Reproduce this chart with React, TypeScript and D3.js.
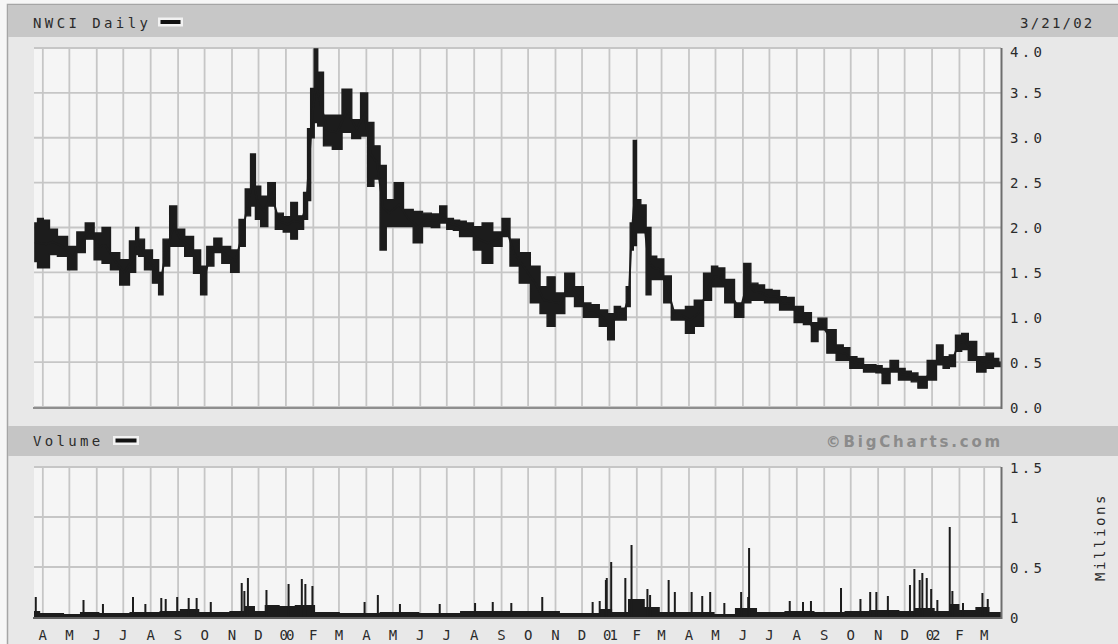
import React from "react";
import * as d3 from "d3";

// ---- price data (high / low bands) ----
const priceDates = [
  "1999-03-23","1999-03-29","1999-04-05","1999-04-12","1999-04-23","1999-05-05","1999-05-14","1999-05-24",
  "1999-06-03","1999-06-11","1999-06-22","1999-07-02","1999-07-14","1999-07-16","1999-07-21","1999-07-29",
  "1999-08-08","1999-08-12","1999-08-18","1999-08-27","1999-09-03","1999-09-14","1999-09-23","1999-09-30",
  "1999-10-07","1999-10-16","1999-10-25","1999-11-05","1999-11-13","1999-11-19","1999-11-25","1999-11-30",
  "1999-12-07","1999-12-16","1999-12-24","2000-01-03","2000-01-10","2000-01-18","2000-01-24","2000-01-27",
  "2000-01-31","2000-02-04","2000-02-08","2000-02-17","2000-02-28","2000-03-10","2000-03-21","2000-03-30",
  "2000-04-06","2000-04-13","2000-04-20","2000-04-27","2000-05-08","2000-05-18","2000-05-30","2000-06-08",
  "2000-06-19","2000-06-27","2000-07-05","2000-07-12","2000-07-19","2000-07-27","2000-08-04","2000-08-16",
  "2000-08-28","2000-09-06","2000-09-15","2000-09-27","2000-10-10","2000-10-19","2000-10-26","2000-11-06",
  "2000-11-17","2000-11-28","2000-12-07","2000-12-15","2000-12-26","2001-01-03","2001-01-10","2001-01-17",
  "2001-01-23","2001-01-26","2001-01-30","2001-02-02","2001-02-09","2001-02-14","2001-02-20","2001-02-27",
  "2001-03-08","2001-03-16","2001-03-23","2001-04-02","2001-04-12","2001-04-23","2001-04-30","2001-05-07",
  "2001-05-16","2001-05-29","2001-06-06","2001-06-14","2001-06-22","2001-06-29","2001-07-09","2001-07-16",
  "2001-07-24","2001-08-03","2001-08-14","2001-08-21","2001-08-29","2001-09-10","2001-09-19","2001-09-26",
  "2001-10-04","2001-10-12","2001-10-19","2001-10-26","2001-11-02","2001-11-09","2001-11-20","2001-11-28",
  "2001-12-05","2001-12-12","2001-12-20","2002-01-02","2002-01-10","2002-01-17","2002-01-24","2002-01-31",
  "2002-02-07","2002-02-15","2002-02-26","2002-03-08","2002-03-15","2002-03-20"
];
const priceHigh = [
  2.05,2.10,2.08,1.98,1.90,1.79,1.95,2.05,
  1.94,2.00,1.72,1.64,1.85,2.00,1.87,1.75,
  1.64,1.50,1.87,2.24,1.98,1.90,1.75,1.57,
  1.79,1.88,1.79,1.75,2.09,2.43,2.82,2.46,
  2.35,2.50,2.16,2.12,2.28,2.13,2.39,3.10,
  3.55,3.99,3.73,3.25,3.25,3.54,3.20,3.50,
  3.17,2.91,2.69,2.31,2.50,2.20,2.18,2.16,
  2.15,2.24,2.10,2.08,2.07,2.05,2.01,2.05,
  1.95,2.10,1.87,1.72,1.57,1.34,1.45,1.27,
  1.49,1.34,1.16,1.14,1.08,1.04,1.12,1.10,
  1.34,2.05,2.97,2.31,2.25,2.00,1.68,1.65,
  1.46,1.08,1.08,1.12,1.19,1.49,1.57,1.55,
  1.42,1.16,1.60,1.38,1.36,1.31,1.30,1.23,
  1.22,1.12,1.05,0.94,0.99,0.86,0.69,0.66,
  0.56,0.54,0.47,0.47,0.46,0.43,0.52,0.43,
  0.40,0.38,0.34,0.52,0.69,0.56,0.58,0.80,
  0.82,0.73,0.56,0.60,0.54,0.50
];
const priceLow = [
  1.62,1.55,1.55,1.70,1.68,1.53,1.72,1.87,
  1.64,1.60,1.53,1.36,1.50,1.70,1.68,1.53,
  1.38,1.25,1.57,1.79,1.79,1.68,1.49,1.25,
  1.57,1.72,1.60,1.50,1.79,2.13,2.24,2.09,
  2.01,2.24,1.98,1.95,1.87,1.98,2.09,2.30,
  3.00,3.17,3.13,2.91,2.87,3.06,2.99,3.02,
  2.46,2.54,1.75,2.01,2.01,2.01,1.83,2.01,
  2.00,2.05,1.98,1.97,1.90,1.90,1.75,1.60,
  1.79,1.90,1.57,1.38,1.16,1.04,0.90,1.04,
  1.23,1.12,1.00,1.00,0.90,0.75,0.97,0.97,
  1.12,1.75,1.80,1.94,1.94,1.25,1.42,1.42,
  1.16,0.97,0.97,0.82,0.90,1.19,1.34,1.34,
  1.16,1.00,1.16,1.19,1.19,1.16,1.16,1.08,
  1.08,0.94,0.92,0.73,0.86,0.60,0.52,0.52,
  0.43,0.43,0.39,0.39,0.38,0.26,0.39,0.30,
  0.30,0.28,0.21,0.30,0.47,0.43,0.45,0.62,
  0.64,0.52,0.39,0.43,0.45,0.45
];

// ---- volume (millions): background level + individual spikes ----
const volBaseDates = [
  "1999-03-22","1999-03-29","1999-04-25","1999-05-13","1999-06-04","1999-07-08","1999-08-11","1999-09-03",
  "1999-09-25","1999-10-29","1999-11-15","1999-11-27","1999-12-08","1999-12-25","2000-01-11","2000-02-03",
  "2000-03-02","2000-04-16","2000-05-31","2000-07-16","2000-08-30","2000-11-06","2000-12-21","2001-01-04",
  "2001-01-22","2001-02-10","2001-02-27","2001-04-02","2001-04-30","2001-05-23","2001-06-17","2001-07-18",
  "2001-08-21","2001-09-24","2001-10-22","2001-11-25","2001-12-12","2002-01-04","2002-01-21","2002-02-01",
  "2002-02-19","2002-03-07","2002-03-20"
];
const volBaseValues = [
  0.06,0.04,0.03,0.05,0.04,0.05,0.06,0.08,
  0.05,0.06,0.11,0.06,0.12,0.11,0.12,0.05,
  0.04,0.05,0.04,0.06,0.06,0.04,0.08,0.05,
  0.18,0.10,0.05,0.05,0.03,0.09,0.05,0.06,
  0.05,0.06,0.07,0.06,0.09,0.06,0.13,0.07,
  0.10,0.05,0.05
];
const volSpikeDates = [
  "1999-03-24","1999-05-17","1999-06-08","1999-07-12","1999-07-26","1999-08-13","1999-08-18","1999-08-31",
  "1999-09-13","1999-09-22","1999-10-08","1999-11-12","1999-11-15","1999-11-19","1999-12-10","2000-01-04",
  "2000-01-19","2000-01-23","2000-01-31","2000-03-30","2000-04-14","2000-05-09","2000-06-23","2000-08-02",
  "2000-08-22","2000-09-12","2000-10-17","2000-12-13","2000-12-21","2000-12-28","2000-12-29","2001-01-03",
  "2001-01-19","2001-01-26","2001-02-13","2001-02-16","2001-03-09","2001-03-16","2001-04-04","2001-04-16",
  "2001-04-25","2001-05-11","2001-05-30","2001-06-07","2001-06-08","2001-07-24","2001-08-08","2001-08-17",
  "2001-09-20","2001-10-12","2001-10-23","2001-10-30","2001-11-12","2001-12-07","2001-12-12","2001-12-18",
  "2001-12-21","2001-12-26","2001-12-31","2002-01-07","2002-01-21","2002-01-24","2002-02-05","2002-02-27",
  "2002-03-05"
];
const volSpikeValues = [
  0.20,0.17,0.13,0.20,0.13,0.19,0.18,0.20,
  0.19,0.19,0.15,0.34,0.26,0.39,0.27,0.33,
  0.38,0.33,0.31,0.15,0.22,0.13,0.13,0.14,
  0.15,0.14,0.20,0.15,0.16,0.37,0.39,0.55,
  0.39,0.72,0.28,0.22,0.37,0.25,0.25,0.21,
  0.25,0.14,0.25,0.20,0.69,0.16,0.15,0.16,
  0.29,0.18,0.25,0.25,0.21,0.32,0.48,0.37,
  0.44,0.39,0.28,0.17,0.90,0.26,0.14,0.24,
  0.18
];

// ---- axes ----
const priceTicks = [0, 0.5, 1, 1.5, 2, 2.5, 3, 3.5, 4];
const priceTickLabels = ["0.0","0.5","1.0","1.5","2.0","2.5","3.0","3.5","4.0"];
const volTicks = [0, 0.5, 1, 1.5];
const volTickLabels = ["0","0.5","1","1.5"];
const monthLabels = ["A","M","J","J","A","S","O","N","D","00","F","M","A","M","J","J","A","S","O","N","D","01","F","M","A","M","J","J","A","S","O","N","D","02","F","M"];

const W = 1118, H = 644;
const plotL = 34, plotR = 1001;
const pTop = 48, pBot = 407;
const vTop = 467, vBot = 617;

const MONO = "'DejaVu Sans Mono', monospace";
const INK = "#1c1c1c";
const GRID = "#c6c6c6";
const TXT = "#2b2b2b";

export default function App() {
  const parse = d3.timeParse("%Y-%m-%d");
  const x = d3.scaleTime().domain([new Date(1999, 2, 22), new Date(2002, 2, 20)]).range([plotL, plotR]);
  const yP = d3.scaleLinear().domain([0, 4]).range([pBot, pTop]);
  const yV = d3.scaleLinear().domain([0, 1.5]).range([vBot, vTop]);

  const price = priceDates.map((d, i) => ({ date: parse(d) as Date, hi: priceHigh[i], lo: priceLow[i] }));
  const volBase = volBaseDates.map((d, i) => ({ date: parse(d) as Date, v: volBaseValues[i] }));
  const spikes = volSpikeDates.map((d, i) => ({ date: parse(d) as Date, v: volSpikeValues[i] }));
  const months = d3.timeMonth.range(new Date(1999, 3, 1), new Date(2002, 2, 2));

  const band = d3.area<any>().x(d => x(d.date)).y0(d => yP(d.lo)).y1(d => yP(d.hi)).curve(d3.curveStep);
  const mid = d3.line<any>().x(d => x(d.date)).y(d => yP((d.hi + d.lo) / 2));
  const volArea = d3.area<any>().x(d => x(d.date)).y0(yV(0)).y1(d => yV(d.v)).curve(d3.curveStepAfter);

  const vGrid = (top: number, bot: number) =>
    months.map((m, i) => <line key={i} x1={x(m)} x2={x(m)} y1={top} y2={bot} stroke={GRID} strokeWidth={1.8} />);

  return (
    <div style={{ position: "fixed", left: 0, top: 0 }}>
      <svg width={W} height={H} style={{ display: "block" }}>
        <rect x={0} y={0} width={W} height={H} fill="#f6f6f6" />
        <rect x={7.5} y={4.5} width={W + 10} height={H + 10} fill="#e8e8e8" stroke="#a5a5a5" strokeWidth={1.5} />
        {/* header bar */}
        <rect x={8} y={5} width={W} height={32} fill="#c7c7c7" />
        <text x={33} y={28} fontFamily={MONO} fontSize={14} letterSpacing={3.4} fill={TXT}>NWCI Daily</text>
        <rect x={158} y={17.5} width={25} height={9} fill="#f2f2f2" />
        <rect x={160.5} y={20} width={20} height={4} fill="#111" />
        <text x={1020} y={28} fontFamily={MONO} fontSize={14} letterSpacing={2.2} fill={TXT}>3/21/02</text>

        {/* price panel */}
        <rect x={plotL} y={pTop} width={plotR - plotL} height={pBot - pTop} fill="#f5f5f5" />
        {vGrid(pTop, pBot)}
        {priceTicks.map((t, i) => (
          <line key={i} x1={plotL} x2={plotR} y1={yP(t)} y2={yP(t)} stroke={GRID} strokeWidth={1.8} />
        ))}
        <path d={band(price) || ""} fill={INK} stroke={INK} strokeWidth={1.4} strokeLinejoin="miter" />
        <path d={mid(price) || ""} fill="none" stroke={INK} strokeWidth={2} />
        <line x1={plotL - 1} x2={plotR + 1} y1={pBot + 1} y2={pBot + 1} stroke="#8e8e8e" strokeWidth={2} />
        <line x1={plotR + 0.5} x2={plotR + 0.5} y1={pTop} y2={pBot + 2} stroke="#6e6e6e" strokeWidth={2} />
        {priceTicks.map((t, i) => (
          <text key={i} x={1010} y={Math.max(yP(t), 51) + 5.5} fontFamily={MONO} fontSize={14} letterSpacing={3.3} fill={TXT}>
            {priceTickLabels[i]}
          </text>
        ))}

        {/* volume header bar */}
        <rect x={8} y={426} width={W} height={30} fill="#c5c5c5" />
        <text x={33} y={446} fontFamily={MONO} fontSize={14} letterSpacing={3.3} fill={TXT}>Volume</text>
        <rect x={113} y={436} width={26} height={9} fill="#f2f2f2" />
        <rect x={115.5} y={438.5} width={21} height={4} fill="#111" />
        <text x={1003} y={447} textAnchor="end" fontFamily="'DejaVu Sans', sans-serif" fontWeight="bold" fontSize={15} letterSpacing={2.8} fill="#8b8b8b">©BigCharts.com</text>

        {/* volume panel */}
        <rect x={plotL} y={vTop} width={plotR - plotL} height={vBot - vTop} fill="#f5f5f5" />
        {vGrid(vTop, vBot)}
        {volTicks.map((t, i) => (
          <line key={i} x1={plotL} x2={plotR} y1={yV(t)} y2={yV(t)} stroke={GRID} strokeWidth={1.8} />
        ))}
        <path d={volArea(volBase) || ""} fill={INK} />
        {spikes.map((s, i) => (
          <rect key={i} x={x(s.date) - 1} y={yV(s.v)} width={2} height={yV(0) - yV(s.v)} fill={INK} />
        ))}
        <line x1={plotL - 1} x2={plotR + 1} y1={vBot + 1} y2={vBot + 1} stroke="#5e5e5e" strokeWidth={2} />
        <line x1={plotR + 0.5} x2={plotR + 0.5} y1={vTop} y2={vBot + 2} stroke="#6e6e6e" strokeWidth={2} />
        {volTicks.map((t, i) => (
          <text key={i} x={1010} y={yV(t) + 5.5} fontFamily={MONO} fontSize={14} letterSpacing={3.3} fill={TXT}>
            {volTickLabels[i]}
          </text>
        ))}
        <text transform="translate(1105,537) rotate(-90)" textAnchor="middle" fontFamily={MONO} fontSize={14} letterSpacing={2.6} fill={TXT}>Millions</text>

        {/* month labels */}
        {months.map((m, i) => (
          <text key={i} x={x(m)} y={640} textAnchor="middle" fontFamily={MONO} fontSize={14}
            letterSpacing={monthLabels[i].length > 1 ? -2 : 0} fill={TXT}>
            {monthLabels[i]}
          </text>
        ))}
      </svg>
    </div>
  );
}
